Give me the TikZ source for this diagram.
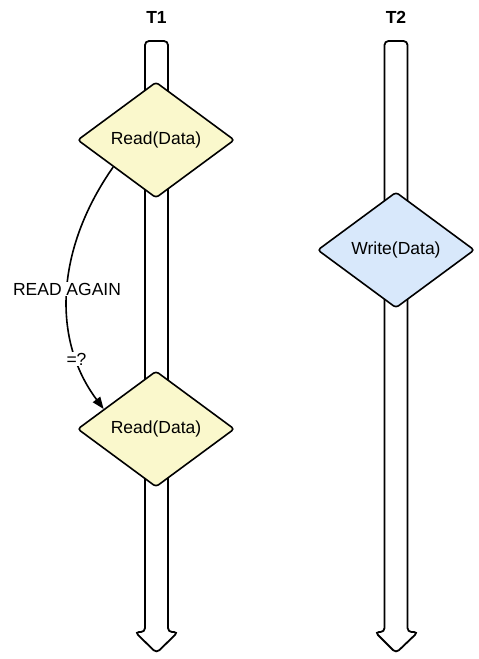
\documentclass[tikz,border=0pt]{standalone}
\usepackage{fontspec}
\setmainfont{Liberation Sans}
\usetikzlibrary{shapes.geometric,arrows.meta,calc}
\definecolor{rdfill}{HTML}{FAF8CC}
\definecolor{wrfill}{HTML}{D8E8FB}
\tikzset{
  op/.style={diamond, draw=black, line width=1.6pt, rounded corners=3pt,
    minimum width=157pt, minimum height=116pt, aspect=1.35, inner sep=0pt,
    font=\fontsize{17.5}{20}\selectfont},
  readop/.style={op, fill=rdfill},
  writeop/.style={op, fill=wrfill},
  lane/.style={draw=black, fill=white, line width=1.8pt, rounded corners=4pt},
  title/.style={font=\fontsize{17.5}{20}\selectfont\bfseries},
  lbl/.style={fill=white, inner sep=1pt, font=\fontsize{17.5}{20}\selectfont},
  flow/.style={line width=1.6pt, -{Triangle[length=12pt,width=9pt]}}
}
\begin{document}
\begin{tikzpicture}[x=1pt,y=-1pt]
\useasboundingbox (0,0) rectangle (479,659);
% titles
\node[title] (t1) at (156.5,17) {T1};
\node[title] (t2) at (396,17) {T2};
% lanes
\draw[lane] (145,300) -- (145,41) -- (168,41) -- (168,632) -- (178,632)
  -- (156.5,653) -- (135,632) -- (145,632) -- cycle;
\draw[lane] (384.5,300) -- (384.5,41) -- (407.5,41) -- (407.5,632) -- (418,632)
  -- (396,653) -- (375,632) -- (384.5,632) -- cycle;
% operations
\node[readop] (r1) at (156,140) {Read(Data)};
\node[readop] (r2) at (156,429) {Read(Data)};
\node[writeop] (w1) at (396,250) {Write(Data)};
% connector
\coordinate (s) at ($(r1.west)!0.46!(r1.south)$);
\coordinate (e) at ($(r2.west)!0.34!(r2.north)$);
\draw[flow] (s) .. controls (55,250) and (52,340) .. (e);
\node[lbl] (again) at (67,289) {READ AGAIN};
\node[lbl] (eq) at (76.5,359) {=?};
\end{tikzpicture}
\end{document}
